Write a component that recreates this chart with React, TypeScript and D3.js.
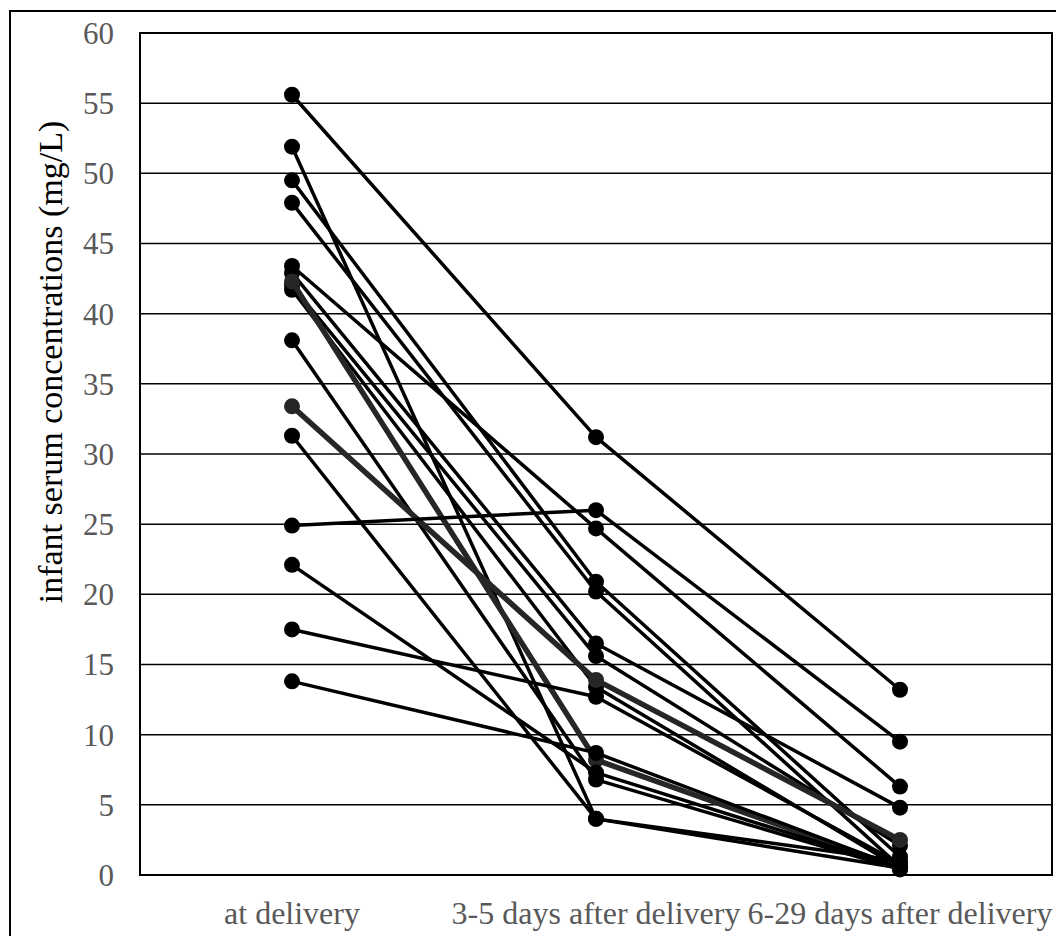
import React from "react";
import * as d3 from "d3";

const categories = ["at delivery", "3-5 days after delivery", "6-29 days after delivery"];
const yTicks = [0, 5, 10, 15, 20, 25, 30, 35, 40, 45, 50, 55, 60];
const yTitle = "infant serum concentrations (mg/L)";

// each infant: [at delivery, 3-5 days, 6-29 days]
const infant01 = [55.6, 31.2, 13.2];
const infant02 = [51.9, 4.0, 0.5];
const infant03 = [49.5, 20.9, 1.3];
const infant04 = [47.9, 20.2, 0.6];
const infant05 = [43.4, 24.7, 6.3];
const infant06 = [42.9, 16.5, 4.8];
const infant07 = [42.0, 15.6, 2.1];
const infant08 = [41.7, 13.4, 0.5];
const infant09 = [38.1, 6.8, 0.4];
const infant10 = [31.3, 4.0, 1.0];
const infant11 = [24.9, 26.0, 9.5];
const infant12 = [22.1, 7.3, 0.5];
const infant13 = [17.5, 12.7, 0.8];
const infant14 = [13.8, 8.7, 0.5];
// highlighted (grey) series
const grey01 = [42.3, 8.2, 0.5];
const grey02 = [33.4, 13.9, 2.5];

const blackSeries = [infant01, infant02, infant03, infant04, infant05, infant06, infant07, infant08, infant09, infant10, infant11, infant12, infant13, infant14];

export default function App() {
  const W = 1056, H = 936;
  const left = 140, right = 1052, top = 33, bottom = 875;
  const x = d3.scaleBand<string>().domain(categories).range([left, right]).padding(0);
  const cx = (i: number) => (x(categories[i]) as number) + x.bandwidth() / 2;
  const y = d3.scaleLinear().domain([0, 60]).range([bottom, top]);
  const line = d3.line<number>().x((_, i) => cx(i)).y((d) => y(d));
  const font = "'Liberation Serif', 'Times New Roman', serif";
  const textColor = "#595959";

  const drawSeries = (s: number[], key: string, color: string, w: number, r: number) => (
    <g key={key}>
      <path d={line(s) || ""} fill="none" stroke={color} strokeWidth={w} strokeLinejoin="round" />
      {s.map((v, i) => (
        <circle key={i} cx={cx(i)} cy={y(v)} r={r} fill={color} />
      ))}
    </g>
  );

  return (
    <svg width={W} height={H} style={{ position: "absolute", left: 0, top: 0, background: "#fff" }}>
      <rect x={0} y={0} width={W} height={H} fill="#fff" />
      <rect x={10} y={11} width={W + 20} height={H + 20} fill="none" stroke="#000" strokeWidth={2} />
      {yTicks.map((t) => (
        <line key={"g" + t} x1={left} x2={right} y1={y(t)} y2={y(t)} stroke="#000" strokeWidth={1.5} />
      ))}
      <rect x={left} y={top} width={right - left} height={bottom - top} fill="none" stroke="#000" strokeWidth={2} />
      {yTicks.map((t) => (
        <text key={"t" + t} x={114} y={y(t)} dy="0.35em" textAnchor="end" fontFamily={font} fontSize={31} fill={textColor}>
          {t}
        </text>
      ))}
      <text
        transform={`translate(62, 362) rotate(-90)`}
        textAnchor="middle"
        fontFamily={font}
        fontSize={34}
        fill="#000"
      >
        {yTitle}
      </text>
      {categories.map((c, i) => (
        <text key={c} x={cx(i)} y={924} textAnchor="middle" fontFamily={font} fontSize={32} fill={textColor}>
          {c}
        </text>
      ))}
      {blackSeries.slice(0, 9).map((s, i) => drawSeries(s, "b" + i, "#000", 3.5, 8))}
      {drawSeries(grey01, "gr1", "#262626", 5.5, 8)}
      {drawSeries(grey02, "gr2", "#262626", 5.5, 8)}
      {blackSeries.slice(9).map((s, i) => drawSeries(s, "c" + i, "#000", 3.5, 8))}
    </svg>
  );
}
